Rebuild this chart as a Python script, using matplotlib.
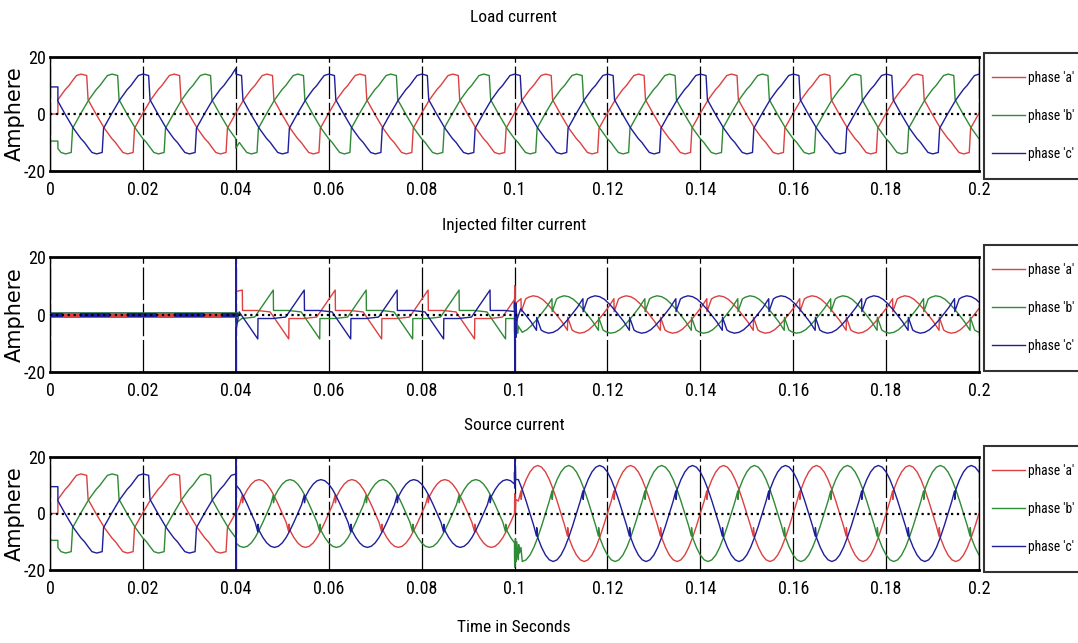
import numpy as np
import matplotlib.pyplot as plt
from matplotlib import font_manager

# all times in ms, currents in A
PERIOD = 20.0

# load current, phase 'a', one cycle after its start point
load_cycle_ms = [0.0, 0.8, 1.6, 2.4, 3.2, 4.0, 5.0, 6.2, 6.5, 8.2,
                 10.0, 10.8, 11.6, 12.4, 13.2, 14.0, 15.0, 16.2, 16.5, 18.2]
load_cycle_a = [5.0, 6.8, 8.6, 10.0, 11.8, 13.5, 14.0, 13.5, 5.0, 0.0,
                -5.0, -6.8, -8.6, -10.0, -11.8, -13.5, -14.0, -13.5, -5.0, 0.0]
load_start = 1.7
load_init = [0.0, -9.5, 9.5]          # a, b, c before the first cycle

# source current after the filter is switched on (0.04 s) and after 0.1 s
src_cycle_ms = [0.0, 0.83, 1.4, 1.45, 1.67, 2.5, 3.33, 4.17, 5.0, 5.83, 6.67, 7.5, 8.33, 9.17,
                10.0, 10.83, 11.4, 11.45, 11.67, 12.5, 13.33, 14.17, 15.0, 15.83, 16.67, 17.5, 18.33, 19.17]
src1_a = [0.0, 3.1, 6.5, 3.8, 6.0, 8.5, 10.4, 11.6, 12.0, 11.6, 10.4, 8.5, 6.0, 3.1,
          0.0, -3.1, -6.5, -3.8, -6.0, -8.5, -10.4, -11.6, -12.0, -11.6, -10.4, -8.5, -6.0, -3.1]
src2_a = [0.0, 4.4, 8.0, 5.0, 8.5, 12.0, 14.7, 16.4, 17.0, 16.4, 14.7, 12.0, 8.5, 4.4,
          0.0, -4.4, -8.0, -5.0, -8.5, -12.0, -14.7, -16.4, -17.0, -16.4, -14.7, -12.0, -8.5, -4.4]

# injected filter current, phase 'a'
filt1_ms = [1.45, 4.6, 7.4, 11.4, 11.45, 14.6, 17.4, 21.4]
filt1_a = [1.4, 1.4, 0.9, -8.5, -1.4, -1.4, -0.9, 8.5]
filt2_ms = [-1.0, 0.2, 1.4, 1.45, 2.4, 3.0, 4.0, 5.0, 6.0, 7.0, 8.0, 9.0,
            10.2, 11.4, 11.45, 12.4, 13.0, 14.0, 15.0, 16.0, 17.0, 18.0]
filt2_a = [0.0, 2.5, 5.5, 1.0, 5.4, 6.0, 6.5, 6.2, 5.3, 3.8, 2.0, 0.0,
           -2.5, -5.5, -1.0, -5.4, -6.0, -6.5, -6.2, -5.3, -3.8, -2.0]

# switching transients (a, b, c)
load_burst_t = [[], [40.0], [40.0]]
load_burst_v = [[], [-12.0], [16.0]]
src_burst_t = [[100.05, 100.15, 100.3],
               [100.05, 100.2, 100.35, 100.5, 100.7, 100.9, 101.1, 101.4],
               [40.01, 40.04, 40.08, 100.05, 100.12, 100.25]]
src_burst_v = [[7.0, 0.0, 5.0],
               [-19.0, -9.0, -17.0, -10.0, -15.0, -11.0, -14.0, -12.0],
               [22.0, -22.0, 10.0, 9.0, 21.0, 12.0]]
filt_burst_t = [[40.05, 100.05, 100.15, 100.3],
                [40.1, 100.1, 100.25, 100.4, 100.6, 100.8],
                [40.01, 40.04, 40.1, 40.3, 100.05, 100.15, 100.3, 100.5]]
filt_burst_v = [[8.0, 10.0, -2.0, 4.0],
                [-3.0, -7.0, 2.0, -6.0, -1.0, -4.0],
                [22.0, -22.0, -5.0, -3.0, -20.0, 3.0, -8.0, -2.0]]

phase_labels = ["phase 'a'", "phase 'b'", "phase 'c'"]
colors = ['#dc4040', '#2f8a35', '#1e1e9a']
xticks = [0, 0.02, 0.04, 0.06, 0.08, 0.1, 0.12, 0.14, 0.16, 0.18, 0.2]
xtick_labels = ['0', '0.02', '0.04', '0.06', '0.08', '0.1', '0.12', '0.14', '0.16', '0.18', '0.2']


def tile(cyc_t, cyc_v, shift, t0, t1):
    # repeat one read cycle over [t0, t1]
    reps = range(-2, 12)
    t = np.concatenate([np.array(cyc_t) + shift + PERIOD * n for n in reps])
    v = np.tile(np.array(cyc_v), len(reps))
    o = np.argsort(t, kind='stable')
    t, v = t[o], v[o]
    keep = (t > t0) & (t < t1)
    tt = np.concatenate([[t0], t[keep], [t1]])
    vv = np.concatenate([[np.interp(t0, t, v)], v[keep], [np.interp(t1, t, v)]])
    return tt, vv


def join(parts, bt, bv):
    t = np.concatenate([p[0] for p in parts] + [np.array(bt, dtype=float)])
    v = np.concatenate([p[1] for p in parts] + [np.array(bv, dtype=float)])
    o = np.argsort(t, kind='stable')
    return t[o] / 1000.0, v[o]


load, source, filt = [], [], []
for k in range(3):
    sh = k * PERIOD / 3
    init = (np.array([0.0, load_start]), np.array([load_init[k]] * 2))
    lseg = tile(load_cycle_ms, load_cycle_a, load_start + sh, load_start, 200.0)
    load.append(join([init, lseg], load_burst_t[k], load_burst_v[k]))
    lpre = tile(load_cycle_ms, load_cycle_a, load_start + sh, load_start, 40.0)
    s1 = tile(src_cycle_ms, src1_a, sh, 40.0, 100.0)
    s2 = tile(src_cycle_ms, src2_a, sh, 100.0, 200.0)
    source.append(join([init, lpre, s1, s2], src_burst_t[k], src_burst_v[k]))
    f0 = (np.array([0.0, 40.0]), np.array([0.0, 0.0]))
    f1 = tile(filt1_ms, filt1_a, sh, 40.0, 100.0)
    f2 = tile(filt2_ms, filt2_a, sh, 100.0, 200.0)
    filt.append(join([f0, f1, f2], filt_burst_t[k], filt_burst_v[k]))

# narrow font for the horizontal texts, whichever is installed
fonts = [(f.name, f.stretch) for f in font_manager.fontManager.ttflist]
narrow, stretch = 'Liberation Sans', 'normal'
for name, st in [('Liberation Sans Narrow', None), ('Roboto Condensed', None),
                 ('Roboto', 'condensed'), ('DejaVu Sans', 'condensed')]:
    hit = [f for f in fonts if f[0] == name and (st is None or f[1] == st)]
    if hit:
        narrow, stretch = name, hit[0][1]
        break
plt.rcParams['font.family'] = [narrow, 'DejaVu Sans']
plt.rcParams['font.stretch'] = stretch

W, H = 1078, 643
fig = plt.figure(figsize=(W / 100, H / 100), dpi=100)

panels = [('Load current', load, 57, 171, 18, 116),
          ('Injected filter current', filt, 257, 372, 225, 308),
          ('Source current', source, 457, 570, 425, 509)]

legends = []
for title, series, top, bot, ty, ly in panels:
    ax = fig.add_axes([50 / W, 1 - bot / H, 929 / W, (bot - top) / H])
    lines = []
    for k in range(3):
        t, v = series[k]
        ln, = ax.plot(t, v, color=colors[k], lw=1.0, label=phase_labels[k])
        lines.append(ln)
    if series is filt:
        # the three overlapping phases before switch-on form a thick band
        t0, v0 = filt[0][0][:2], filt[0][1][:2]
        ax.plot(t0, v0, color=colors[1], lw=4.0, zorder=2.5)
        ax.plot(t0, v0, color=colors[2], lw=3.2, zorder=2.6)
        ax.plot(t0, v0, color=colors[0], lw=3.0, zorder=2.7, ls=(8.2, (4.1, 7.2)))
    ax.axhline(0, color='black', ls=':', lw=1.6, zorder=5)
    ax.set_xlim(0, 0.2)
    ax.set_ylim(-20, 20)
    ax.set_xticks(xticks)
    ax.set_xticklabels(xtick_labels)
    ax.set_yticks([-20, 0, 20])
    ax.set_yticklabels(['-20', '0', '20'])
    ax.tick_params(length=0, labelsize=13)
    ax.tick_params(axis='x', pad=7)
    ax.tick_params(axis='y', pad=3)
    ax.xaxis.grid(True, color='black', lw=0.9, dashes=(26, 3))
    for s in ax.spines.values():
        s.set_linewidth(1.0)
    ax.spines['top'].set_linewidth(2.0)
    ax.spines['bottom'].set_linewidth(2.0)
    ax.set_ylabel('Amphere', family='DejaVu Sans', stretch='normal', fontsize=15)
    ax.yaxis.set_label_coords(-0.027, 0.5)
    fig.text(514 / W, 1 - ty / H, title, ha='center', va='center', fontsize=12.5)
    leg = ax.legend(handles=lines, loc='center left', bbox_to_anchor=(989 / W, 1 - ly / H),
                    bbox_transform=fig.transFigure, fontsize=12, frameon=True, fancybox=False,
                    edgecolor='black', borderpad=0.15, labelspacing=1.4, handlelength=2.0,
                    handletextpad=0.2, borderaxespad=0)
    fr = leg.get_frame()
    fr.set_linewidth(1.5)
    fr.set_boxstyle('square', pad=0.3)
    fr.set_mutation_aspect(3.0)
    legends.append(leg)

fig.text(514 / W, 1 - 628 / H, 'Time in Seconds', ha='center', va='center', fontsize=12.5)

# shrink the legend texts until they stay inside the picture
size = 12.0
for lg in legends:
    for tx in lg.get_texts():
        tx.set_fontsize(size)
fig.canvas.draw()
r = fig.canvas.get_renderer()
while size > 7 and max(tx.get_window_extent(r).x1 for lg in legends for tx in lg.get_texts()) > W - 2:
    size -= 0.25
    for lg in legends:
        for tx in lg.get_texts():
            tx.set_fontsize(size)
    fig.canvas.draw()

fig.savefig('out.png', dpi=100)
